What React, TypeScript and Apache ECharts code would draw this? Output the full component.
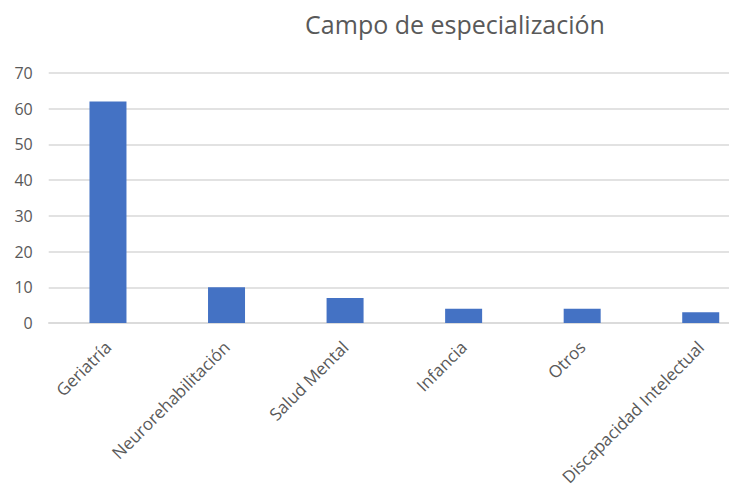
import React, { useEffect, useRef } from "react";
import * as echarts from "echarts";

const categories = ["Geriatría", "Neurorehabilitación", "Salud Mental", "Infancia", "Otros", "Discapacidad Intelectual"];
const values = [62, 10, 7, 4, 4, 3];
const yTicks = { min: 0, max: 70, interval: 10 };
const titleText = "Campo de especialización";

export default function App() {
  const ref = useRef<HTMLDivElement>(null);
  useEffect(() => {
    if (!ref.current) return;
    const chart = echarts.init(ref.current, undefined, { renderer: "svg" });
    const font = "Open Sans";
    chart.setOption({
      animation: false,
      backgroundColor: "#ffffff",
      title: {
        text: titleText,
        left: 450,
        top: 6,
        textAlign: "center",
        textStyle: { fontFamily: font, fontSize: 25, fontWeight: "normal", color: "#595959" },
      },
      grid: { left: 48.7, right: 1, top: 73, bottom: 177, containLabel: false },
      xAxis: {
        type: "category",
        data: categories,
        axisLine: { show: true, lineStyle: { color: "#d9d9d9", width: 1.5 } },
        axisTick: { show: false },
        axisLabel: {
          rotate: 45,
          interval: 0,
          margin: 21,
          fontFamily: font,
          fontSize: 17,
          color: "#595959",
        },
      },
      yAxis: {
        type: "value",
        min: yTicks.min,
        max: yTicks.max,
        interval: yTicks.interval,
        axisLine: { show: false },
        axisTick: { show: false },
        splitLine: { lineStyle: { color: "#d9d9d9", width: 1.5 } },
        axisLabel: { margin: 16, fontFamily: font, fontSize: 16, color: "#595959" },
      },
      series: [
        {
          type: "bar",
          data: values,
          barWidth: 37,
          itemStyle: { color: "#4472C4" },
        },
      ],
    });
    return () => chart.dispose();
  }, []);
  return (
    <div style={{ position: "fixed", left: 0, top: 0, width: 729, height: 500, overflow: "hidden", background: "#fff" }}>
      <div ref={ref} style={{ width: 761, height: 500 }} />
    </div>
  );
}
